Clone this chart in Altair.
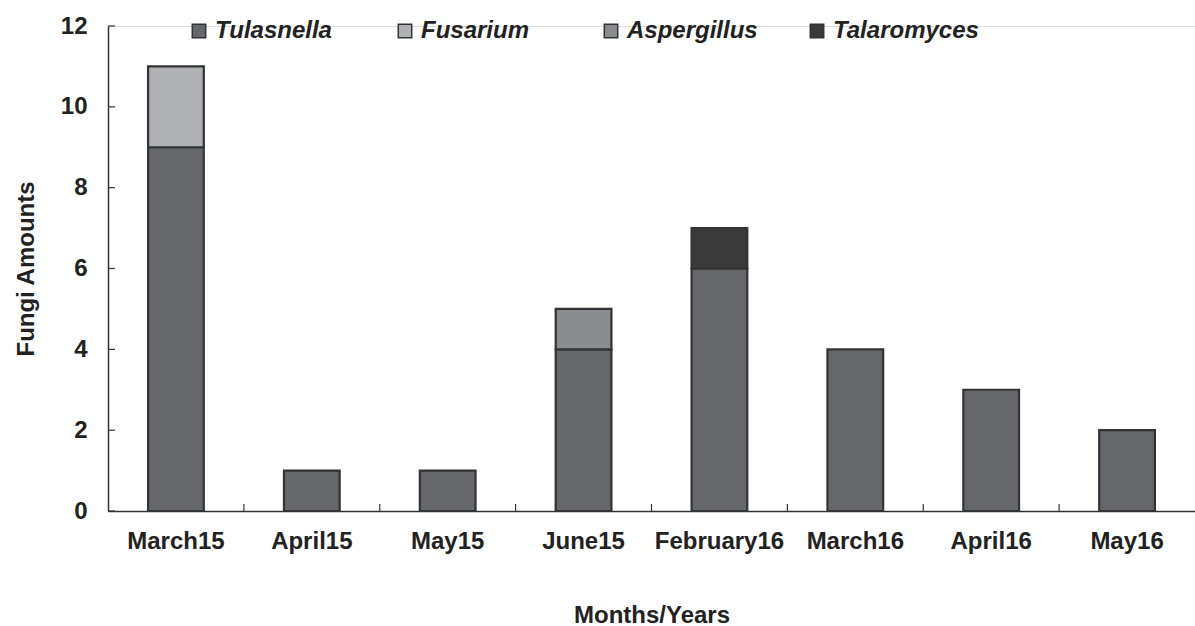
import altair as alt
import pandas as pd

months = ["March15", "April15", "May15", "June15", "February16", "March16", "April16", "May16"]
genera = ["Tulasnella", "Fusarium", "Aspergillus", "Talaromyces"]
tulasnella = [9, 1, 1, 4, 6, 4, 3, 2]
fusarium = [2, 0, 0, 0, 0, 0, 0, 0]
aspergillus = [0, 0, 0, 1, 0, 0, 0, 0]
talaromyces = [0, 0, 0, 0, 1, 0, 0, 0]
colors = ["#66676b", "#b0b1b5", "#8b8c90", "#3a3a3b"]
y_ticks = [0, 2, 4, 6, 8, 10, 12]

series = [tulasnella, fusarium, aspergillus, talaromyces]
rows = []
for gi, (g, vals) in enumerate(zip(genera, series)):
    for m, v in zip(months, vals):
        if v > 0:
            rows.append({"month": m, "genus": g, "order": gi, "amount": v})
df = pd.DataFrame(rows)

W, H = 1087, 485
FONT = "Liberation Sans"
FS = 24

xaxis = alt.Axis(title="Months/Years", ticks=False, labelFont=FONT, labelFontWeight="bold",
                 labelFontSize=FS, labelColor="#222", labelPadding=18, labelAngle=0,
                 titleFont=FONT, titleFontWeight="bold", titleFontSize=FS, titleColor="#222",
                 titlePadding=50, domainColor="#333", domainWidth=1.5)
yaxis = alt.Axis(title="Fungi Amounts", ticks=False, values=y_ticks, grid=False, labelFont=FONT,
                 labelFontWeight="bold", labelFontSize=FS, labelColor="#222", labelPadding=21,
                 titleFont=FONT, titleFontWeight="bold", titleFontSize=FS, titleColor="#222",
                 titlePadding=22, domainColor="#333", domainWidth=1.5)
xscale = alt.Scale(domain=months, paddingInner=0, paddingOuter=0)
yscale = alt.Scale(domain=[0, 12], nice=False)

bars = alt.Chart(df).mark_bar(width=alt.RelativeBandSize(0.41), stroke="#333", strokeWidth=2.2).encode(
    x=alt.X("month:N", sort=months, scale=xscale, axis=xaxis),
    y=alt.Y("sum(amount):Q", scale=yscale, axis=yaxis, stack="zero"),
    color=alt.Color("genus:N", scale=alt.Scale(domain=genera, range=colors),
                    legend=alt.Legend(title=None, orient="none", direction="horizontal",
                                      legendX=79, legendY=-7, symbolType="square", symbolSize=180,
                                      symbolStrokeColor="#333", symbolStrokeWidth=1.5,
                                      symbolOpacity=1, gridAlign="all",
                                      labelFont=FONT, labelFontSize=FS, labelFontStyle="italic",
                                      labelFontWeight="bold", labelColor="#222", columnPadding=32,
                                      labelOffset=4)),
    order=alt.Order("order:Q", sort="ascending"),
)

xt = alt.Chart(pd.DataFrame({"month": months[1:]})).mark_rule(color="#333", strokeWidth=1.2).encode(
    x=alt.X("month:N", sort=months, scale=xscale, axis=xaxis, bandPosition=0),
    y=alt.value(H - 7), y2=alt.value(H),
)

yt = alt.Chart(pd.DataFrame({"v": y_ticks})).mark_rule(color="#333", strokeWidth=1.2).encode(
    y=alt.Y("v:Q", scale=yscale, axis=yaxis),
    x=alt.value(0), x2=alt.value(7),
)

chart = alt.layer(bars, xt, yt).properties(
    width=W, height=H,
    padding={"left": 108, "top": 26, "right": 0, "bottom": 115},
    autosize=alt.AutoSizeParams(type="none"),
).configure_view(stroke=None).configure(background="white")

chart.save("out.html", embed_options={"renderer": "svg", "actions": False})
